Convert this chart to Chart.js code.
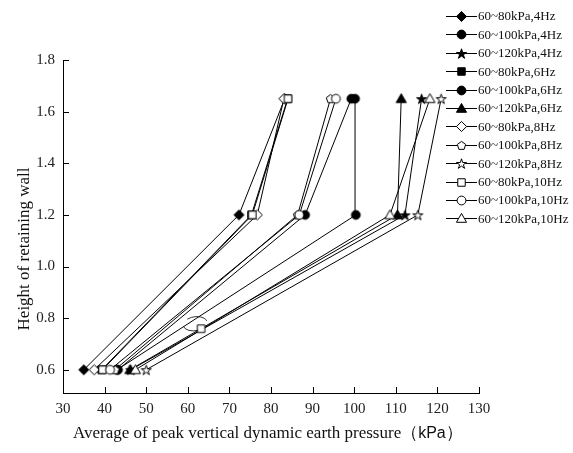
<!DOCTYPE html>
<html>
<head>
<meta charset="utf-8">
<script src="https://cdn.jsdelivr.net/npm/chart.js@4.4.1/dist/chart.umd.min.js"></script>
<style>
  html, body { margin: 0; padding: 0; background: #fff; }
  #wrap { width: 573px; height: 453px; position: relative; }
</style>
</head>
<body>
<div id="wrap"><canvas id="chart"></canvas></div>
<script>
/* Peak vertical dynamic earth pressure vs. wall height */

const SERIF = "'Liberation Serif', 'Times New Roman', serif";
const SANS = "'Liberation Sans', Arial, sans-serif";

// ── Data ────────────────────────────────────────────────────────────────────

const HEIGHTS = [0.6, 1.2, 1.65];
const X_TICKS = [30, 40, 50, 60, 70, 80, 90, 100, 110, 120, 130];
const Y_TICKS = [0.6, 0.8, 1.0, 1.2, 1.4, 1.6, 1.8];

const LABELS = [
  '60~80kPa,4Hz', '60~100kPa,4Hz', '60~120kPa,4Hz',
  '60~80kPa,6Hz', '60~100kPa,6Hz', '60~120kPa,6Hz',
  '60~80kPa,8Hz', '60~100kPa,8Hz', '60~120kPa,8Hz',
  '60~80kPa,10Hz', '60~100kPa,10Hz', '60~120kPa,10Hz',
];

// pressure (kPa) at 0.6 / 1.2 / 1.65 m
const P_80_4 = [35.0, 72.3, 83.3];
const P_100_4 = [43.2, 88.2, 99.3];
const P_120_4 = [46.3, 112.2, 116.2];
const P_80_6 = [39.3, 75.3, 84.0];
const P_100_6 = [43.0, 100.4, 100.2];
const P_120_6 = [46.1, 110.4, 111.3];
const P_80_8 = [37.5, 76.7, 83.1];
const P_100_8 = [42.5, 86.4, 94.3];
const P_120_8 = [50.0, 115.3, 120.9];
const P_80_10 = [39.5, 75.5, 84.1];
const P_100_10 = [41.3, 86.8, 95.6];
const P_120_10 = [47.4, 108.6, 118.2];

const VALUES = [
  P_80_4, P_100_4, P_120_4,
  P_80_6, P_100_6, P_120_6,
  P_80_8, P_100_8, P_120_8,
  P_80_10, P_100_10, P_120_10,
];

const SHAPES = [
  ['diamond', true], ['circle', true], ['star', true],
  ['square', true], ['circle', true], ['triangle', true],
  ['diamond', false], ['pentagon', false], ['star', false],
  ['square', false], ['circle', false], ['triangle', false],
];

// group marker drawn inside the plot
const NOTE_X = [63.2];
const NOTE_Y = [0.759];

// ── Marker images ───────────────────────────────────────────────────────────

function shapePath(ctx, shape, x, y, r) {
  ctx.beginPath();
  if (shape === 'circle') {
    ctx.arc(x, y, r, 0, Math.PI * 2);
  } else if (shape === 'diamond') {
    ctx.moveTo(x, y - r * 1.15);
    ctx.lineTo(x + r * 1.15, y);
    ctx.lineTo(x, y + r * 1.15);
    ctx.lineTo(x - r * 1.15, y);
  } else if (shape === 'square') {
    const s = r * 0.85;
    ctx.rect(x - s, y - s, s * 2, s * 2);
  } else if (shape === 'triangle') {
    const s = r * 1.15;
    ctx.moveTo(x, y - s);
    ctx.lineTo(x + s, y + s * 0.75);
    ctx.lineTo(x - s, y + s * 0.75);
  } else {
    const n = 5, star = shape === 'star';
    const pts = star ? n * 2 : n;
    for (let k = 0; k < pts; k++) {
      const a = -Math.PI / 2 + k * Math.PI * 2 / pts;
      const rr = star && k % 2 ? r * 0.45 : r * (star ? 1.2 : 1.0);
      const px = x + Math.cos(a) * rr, py = y + Math.sin(a) * rr + (star ? 0.6 : 0.3);
      k ? ctx.lineTo(px, py) : ctx.moveTo(px, py);
    }
  }
  ctx.closePath();
}

function makeMarker(shape, filled, lineWidth) {
  const w = lineWidth || 13, h = 13;
  const c = document.createElement('canvas');
  c.width = w; c.height = h;
  const ctx = c.getContext('2d');
  ctx.strokeStyle = '#000';
  ctx.lineWidth = 1;
  if (lineWidth) {
    ctx.beginPath();
    ctx.moveTo(0, 6.5);
    ctx.lineTo(w, 6.5);
    ctx.stroke();
  }
  shapePath(ctx, shape, w / 2, h / 2, 4.4);
  ctx.fillStyle = filled ? '#000' : '#fff';
  ctx.fill();
  ctx.stroke();
  return c;
}

const POINT_IMG = SHAPES.map(([s, f]) => makeMarker(s, f));
const LEGEND_IMG = SHAPES.map(([s, f]) => makeMarker(s, f, 31));

// ── Plugins ─────────────────────────────────────────────────────────────────

// tick marks pointing into the plot
const innerTicks = {
  id: 'innerTicks',
  beforeDatasetsDraw(chart) {
    const { ctx, chartArea, scales: { x, y } } = chart;
    ctx.save();
    ctx.strokeStyle = '#000';
    ctx.lineWidth = 1;
    ctx.beginPath();
    x.ticks.forEach((t, i) => {
      const px = Math.round(x.getPixelForTick(i)) + 0.5;
      ctx.moveTo(px, chartArea.bottom);
      ctx.lineTo(px, chartArea.bottom - 6);
    });
    y.ticks.forEach((t, i) => {
      const py = Math.round(y.getPixelForTick(i)) + 0.5;
      ctx.moveTo(chartArea.left, py);
      ctx.lineTo(chartArea.left + 6, py);
    });
    ctx.stroke();
    ctx.restore();
  }
};

// bracket arc around the group marker
const noteArc = {
  id: 'noteArc',
  afterDatasetsDraw(chart) {
    const { ctx, scales: { x, y } } = chart;
    const cx = x.getPixelForValue(NOTE_X[0]) - 6;
    const cy = y.getPixelForValue(NOTE_Y[0]) - 5;
    ctx.save();
    ctx.strokeStyle = '#000';
    ctx.lineWidth = 0.8;
    ctx.beginPath();
    ctx.ellipse(cx, cy, 12, 7, -0.15, Math.PI * 1.3, Math.PI * 1.95);
    ctx.stroke();
    ctx.beginPath();
    ctx.ellipse(cx, cy, 12, 7, -0.15, Math.PI * 0.45, Math.PI * 0.95);
    ctx.stroke();
    ctx.restore();
  }
};

const legendRight = {
  id: 'legendRight',
  afterDraw(chart) {
    const ctx = chart.ctx;
    ctx.save();
    ctx.font = `13px ${SERIF}`;
    ctx.fillStyle = '#111';
    ctx.textBaseline = 'middle';
    LABELS.forEach((lab, i) => {
      const yy = 16.5 + i * 18.4;
      const img = LEGEND_IMG[i];
      ctx.drawImage(img, 446, Math.round(yy - img.height / 2));
      ctx.fillText(lab, 478, yy + 0.5);
    });
    ctx.restore();
  }
};

const axisTitles = {
  id: 'axisTitles',
  afterDraw(chart) {
    const ctx = chart.ctx;
    ctx.save();
    ctx.fillStyle = '#111';
    ctx.textBaseline = 'middle';

    ctx.font = `17px ${SERIF}`;
    ctx.translate(25, 249);
    ctx.rotate(-Math.PI / 2);
    ctx.textAlign = 'center';
    ctx.fillText('Height of retaining wall', 0, 0);
    ctx.setTransform(1, 0, 0, 1, 0, 0);

    ctx.textAlign = 'left';
    const main = 'Average of peak vertical dynamic earth pressure（';
    const ty = 434;
    ctx.font = `17px ${SERIF}`;
    let xx = 73;
    ctx.fillText(main, xx, ty);
    xx += ctx.measureText(main).width;
    ctx.font = `16px ${SANS}`;
    ctx.fillText('kPa', xx, ty);
    xx += ctx.measureText('kPa').width;
    ctx.font = `17px ${SERIF}`;
    ctx.fillText('）', xx, ty);
    ctx.restore();
  }
};

// ── Chart ───────────────────────────────────────────────────────────────────

const datasets = LABELS.map((lab, i) => ({
  label: lab,
  data: HEIGHTS.map((h, k) => ({ x: VALUES[i][k], y: h })),
  showLine: true,
  borderColor: '#000',
  borderWidth: 1,
  pointStyle: POINT_IMG[i],
  pointRadius: 5,
  order: LABELS.length - i,
}));

datasets.push({
  label: 'group',
  data: NOTE_X.map((v, k) => ({ x: v, y: NOTE_Y[k] })),
  showLine: false,
  pointStyle: makeMarker('square', false),
  pointRadius: 5,
  order: -1,
});

const tickFont = { family: SERIF, size: 15 };

new Chart(document.getElementById('chart'), {
  type: 'scatter',
  data: { datasets },
  options: {
    responsive: true,
    maintainAspectRatio: false,
    animation: false,
    layout: { padding: { left: 0, top: 60, right: 94, bottom: 0 } },
    plugins: { legend: { display: false }, tooltip: { enabled: false } },
    scales: {
      x: {
        type: 'linear', min: 30, max: 130,
        afterBuildTicks: s => { s.ticks = X_TICKS.map(v => ({ value: v })); },
        afterFit: s => { s.height = 60; },
        grid: { display: true, drawOnChartArea: false, drawTicks: false },
        border: { display: true, color: '#000', width: 1 },
        ticks: { font: tickFont, color: '#222', padding: 7, maxRotation: 0, autoSkip: false },
      },
      y: {
        type: 'linear', min: 0.51, max: 1.8,
        afterBuildTicks: s => { s.ticks = Y_TICKS.map(v => ({ value: v })); },
        afterFit: s => { s.width = 63; },
        grid: { display: true, drawOnChartArea: false, drawTicks: false },
        border: { display: true, color: '#000', width: 1 },
        ticks: { font: tickFont, color: '#222', padding: 8, autoSkip: false, callback: v => v.toFixed(1) },
      }
    }
  },
  plugins: [innerTicks, noteArc, legendRight, axisTitles]
});
</script>
</body>
</html>
